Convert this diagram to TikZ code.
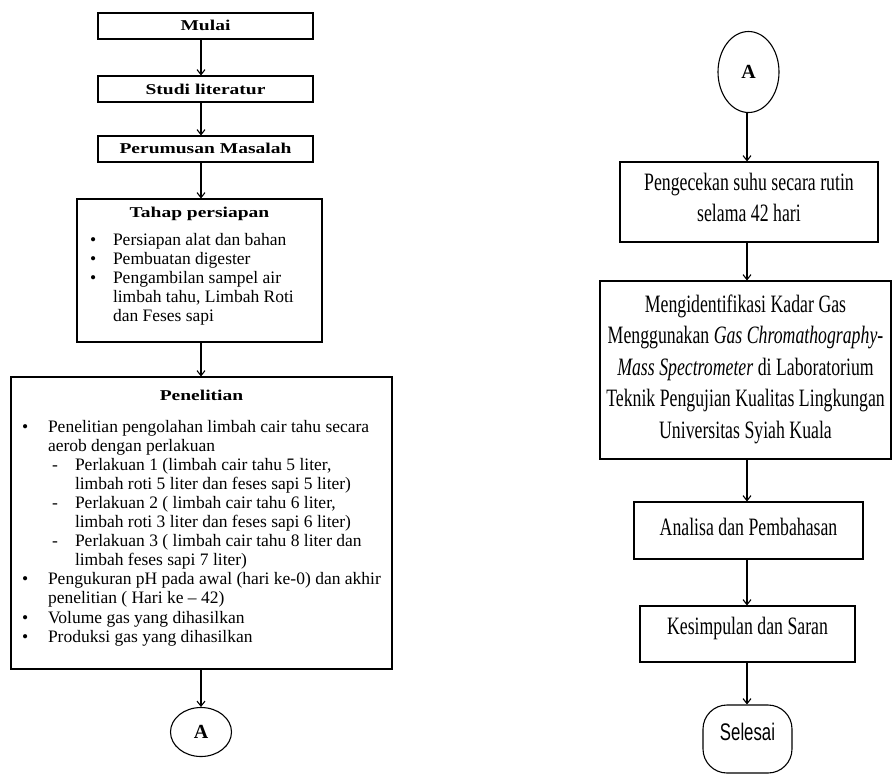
\documentclass[tikz,border=0pt]{standalone}
\usepackage{fontspec}
\setmainfont{Liberation Serif}
\newfontfamily\judulfont[FakeStretch=1.3]{Liberation Serif}
\newfontfamily\sempitfont[FakeStretch=0.71]{Liberation Serif}
\newfontfamily\sempitsans[FakeStretch=0.7]{Liberation Sans}
\usetikzlibrary{arrows.meta,shapes.geometric}

% jarak antarkata huruf sempit
\newcommand{\rapat}{\spaceskip 4.5pt\relax}

% daftar berbutir: {geser label}{indentasi}{label}
\newenvironment{daftar}[3]{%
  \begin{list}{\hspace*{#1}#3\hfill}{%
    \setlength{\leftmargin}{#2}\setlength{\labelwidth}{#2}%
    \setlength{\labelsep}{0pt}\setlength{\itemindent}{0pt}%
    \setlength{\topsep}{0pt}\setlength{\partopsep}{0pt}%
    \setlength{\parsep}{0pt}\setlength{\itemsep}{0pt}}}%
  {\end{list}}

\tikzset{
  kotak/.style={draw, line width=1.1pt, inner sep=0pt, anchor=base},
  judul/.style={kotak, align=center, font=\judulfont\bfseries\fontsize{15pt}{18pt}\selectfont},
  isian/.style={kotak, align=flush left, font=\fontsize{17.5pt}{19.1pt}\selectfont},
  proses/.style={kotak, align=flush center, font={\sempitfont\fontsize{25pt}{31.6pt}\selectfont\rapat}},
  konektor/.style={draw, ellipse, line width=1.1pt, inner sep=0pt, font=\bfseries\fontsize{20pt}{22pt}\selectfont},
  panah/.style={-{Straight Barb[length=5pt,width=8pt]}, line width=1.1pt}
}

\begin{document}
\begin{tikzpicture}[x=1pt, y=-1pt]
  \useasboundingbox (0,0) rectangle (893,776);

  % kolom kiri
  \node[judul, text width=215pt, text height=17.7pt, text depth=8.3pt] (mulai) at (205.5,30.7) {Mulai};
  \node[judul, text width=215pt, text height=18pt, text depth=8pt] (studi) at (205.5,94) {Studi literatur};
  \node[judul, text width=215pt, text height=17.5pt, text depth=8.5pt] (rumusan) at (205.5,153.5) {Perumusan Masalah};

  \node[isian, text width=245pt, text height=18pt, text depth=125pt] (persiapan) at (199.5,217) {%
    \centerline{\judulfont\bfseries\fontsize{15pt}{18pt}\selectfont Tahap persiapan}\par\vspace{9pt}
    \begin{daftar}{13pt}{36pt}{\textbullet}
    \item Persiapan alat dan bahan
    \item Pembuatan digester
    \item Pengambilan sampel air\\ limbah tahu, Limbah Roti\\ dan Feses sapi
    \end{daftar}};

  \node[isian, text width=381pt, text height=23pt, text depth=269pt] (penelitian) at (201.5,400) {%
    \centerline{\judulfont\bfseries\fontsize{15pt}{18pt}\selectfont Penelitian}\par\vspace{12.9pt}
    \begin{daftar}{11pt}{37pt}{\textbullet}
    \item Penelitian pengolahan limbah cair tahu secara\\ aerob dengan perlakuan
      \begin{daftar}{4pt}{27pt}{-}
      \item Perlakuan 1 (limbah cair tahu 5 liter,\\ limbah roti 5 liter dan feses sapi 5 liter)
      \item Perlakuan 2 ( limbah cair tahu 6 liter,\\ limbah roti 3 liter dan feses sapi 6 liter)
      \item Perlakuan 3 ( limbah cair tahu 8 liter dan\\ limbah feses sapi 7 liter)
      \end{daftar}
    \item Pengukuran pH pada awal (hari ke-0) dan akhir\\ penelitian ( Hari ke – 42)
    \item Volume gas yang dihasilkan
    \item Produksi gas yang dihasilkan
    \end{daftar}};

  \node[konektor, minimum width=61pt, minimum height=49pt] (keA) at (201,732) {A};

  % kolom kanan
  \node[konektor, minimum width=61pt, minimum height=81pt] (dariA) at (748.5,72) {A};

  \node[proses, text width=258pt, text height=28pt, text depth=52pt] (cek) at (749,190) {Pengecekan suhu secara rutin\\ selama 42 hari};
  \node[proses, text width=291pt, text height=31pt, text depth=147pt] (gcms) at (745.5,312) {Mengidentifikasi Kadar Gas\\ Menggunakan \textit{Gas Chromathography-}\\ \textit{Mass Spectrometer} di Laboratorium\\ Teknik Pengujian Kualitas Lingkungan\\ Universitas Syiah Kuala};
  \node[proses, text width=229pt, text height=33pt, text depth=24pt] (analisa) at (748.5,535) {Analisa dan Pembahasan};
  \node[proses, text width=215pt, text height=28pt, text depth=28pt] (simpul) at (747.5,634) {Kesimpulan dan Saran};
  \node[kotak, rounded corners=24pt, align=center, font=\sempitsans\fontsize{24pt}{28pt}\selectfont,
        text width=89pt, text height=35pt, text depth=33pt] (selesai) at (747.5,740) {Selesai};

  % panah
  \coordinate (sumbuKiri) at (201,0);
  \coordinate (sumbuKanan) at (747,0);
  \foreach \a/\b in {mulai/studi, studi/rumusan, rumusan/persiapan, persiapan/penelitian, penelitian/keA}
    \draw[panah] (\a.south -| sumbuKiri) -- (\b.north -| sumbuKiri);
  \foreach \a/\b in {dariA/cek, cek/gcms, gcms/analisa, analisa/simpul, simpul/selesai}
    \draw[panah] (\a.south -| sumbuKanan) -- (\b.north -| sumbuKanan);
\end{tikzpicture}
\end{document}
